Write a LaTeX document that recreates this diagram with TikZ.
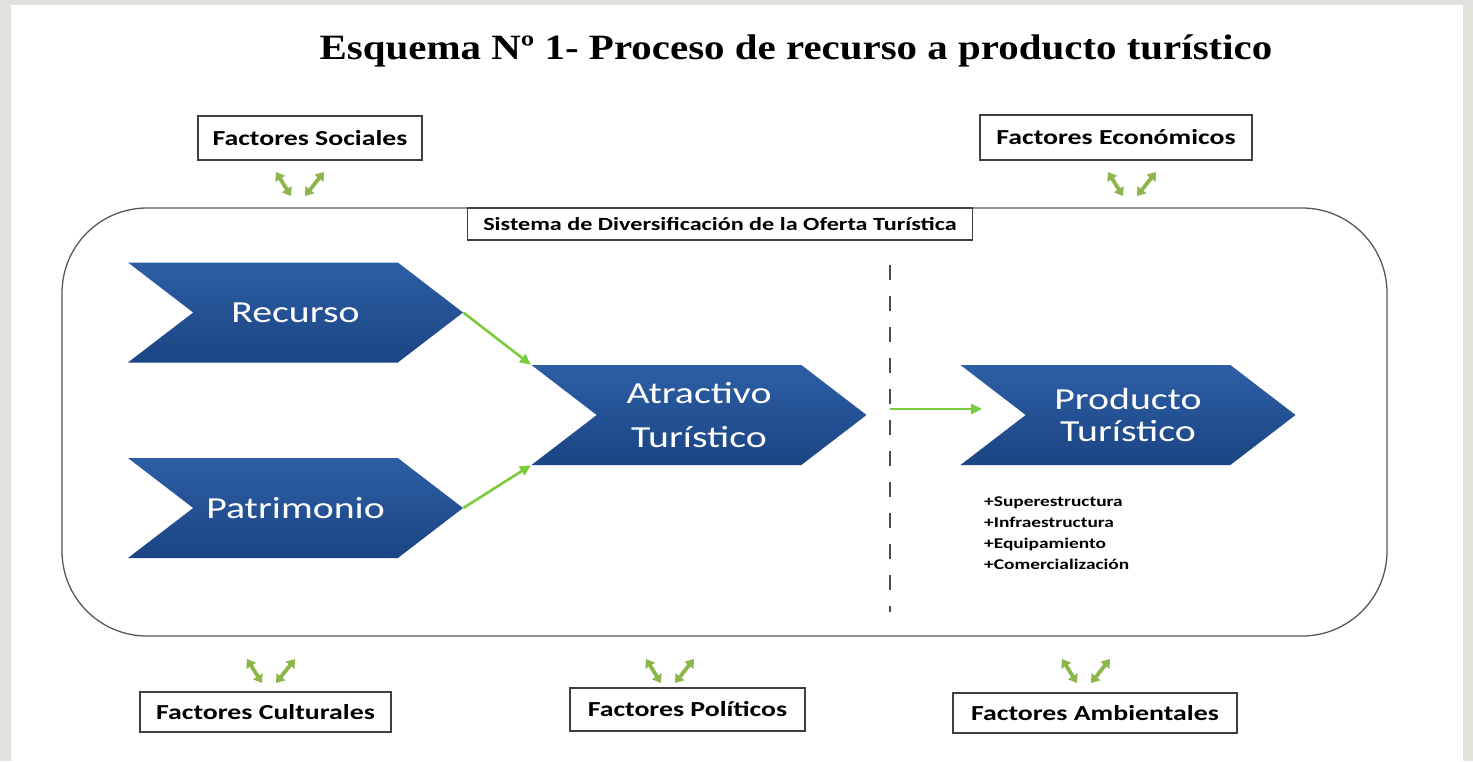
\documentclass[tikz,border=0pt]{standalone}
\usepackage{fontspec}
\setmainfont{Liberation Serif}
\newfontfamily\calibri{Carlito}[FakeStretch=1.3]
\newfontfamily\headfont{Liberation Serif}[FakeStretch=1.15]
\usetikzlibrary{arrows.meta,positioning,shapes.symbols}
\definecolor{chevtop}{HTML}{2D5EA5}
\definecolor{chevbot}{HTML}{1B4583}
\definecolor{flowgreen}{HTML}{7ACC3C}
\definecolor{swapgreen}{HTML}{8CB64C}
\definecolor{pagegrey}{HTML}{E2E0DB}

\begin{document}
\begin{tikzpicture}[x=1pt, y=-1pt,
  factor/.style={draw=black!75, line width=1.2, fill=white, inner sep=0, font=\calibri\bfseries\fontsize{21.4}{25}\selectfont},
  chev/.style={signal, signal from=west, signal to=east, signal pointer angle=75, minimum width=335, minimum height=100, inner sep=0, top color=chevtop, bottom color=chevbot, text=white, align=center, font=\calibri\fontsize{30.6}{44}\selectfont},
  flow/.style={-{Triangle[length=11pt,width=10pt]}, draw=flowgreen, line width=2.6},
  bothway/.style={{Triangle[length=8pt,width=11pt]}-{Triangle[length=8pt,width=11pt]}, draw=swapgreen, line width=3.8},
  frame/.style={draw=black!65, line width=1.3, rounded corners=85},
  divider/.style={draw=black!70, line width=1.5, dash pattern=on 15pt off 16pt}]
\fill[pagegrey] (0,0) rectangle (1473,761);
\fill[white] (11,5) rectangle (1463,761);
\useasboundingbox (0,0) rectangle (1473,761);

\node[font=\headfont\bfseries\fontsize{35.6}{42}\selectfont] (title) at (796,51) {Esquema Nº 1- Proceso de recurso a producto turístico};

% system frame
\draw[frame] (62,208) rectangle (1387,636);
\node[factor, minimum width=505, minimum height=32, font=\calibri\bfseries\fontsize{18.6}{22}\selectfont] (sistema) at (720,224) {Sistema de Diversificación de la Oferta Turística};
\draw[divider] (890,265) -- (890,612);

% chevrons
\node[chev] (recurso) at (295.5,312.5) {Recurso};
\node[chev] (patrimonio) at (295.5,508) {Patrimonio};
\node[chev] (atractivo) at (699,415) {Atractivo\\Turístico};
\node[chev, font=\calibri\fontsize{30.6}{32}\selectfont] (producto) at (1128,415) {Producto\\Turístico};
\node[anchor=north west, align=left, inner sep=0, font=\calibri\bfseries\fontsize{14.9}{20.7}\selectfont] (extras) at (984,497) {+Superestructura\\+Infraestructura\\+Equipamiento\\+Comercialización};

\draw[flow] (recurso.east) -- (atractivo.north west);
\draw[flow] (patrimonio.east) -- (atractivo.south west);
\coordinate (split) at (890,409);
\coordinate (entry) at (982,409);
\draw[flow] (split) -- (entry);

% factors
\node[factor, minimum width=224, minimum height=44] (social) at (310,138) {Factores Sociales};
\node[factor, minimum width=272, minimum height=45] (economico) at (1116,137.5) {Factores Económicos};
\node[factor, minimum width=251, minimum height=40] (cultural) at (265.5,712) {Factores Culturales};
\node[factor, minimum width=235, minimum height=43] (politico) at (687.5,709.5) {Factores Políticos};
\node[factor, minimum width=284, minimum height=40] (ambiental) at (1095,713) {Factores Ambientales};

\foreach \x/\y in {300/184, 1132/184, 271/671, 670/671, 1086/671}{
  \draw[bothway] (\x-24,\y-12) -- (\x-9,\y+12);
  \draw[bothway] (\x+5,\y+12) -- (\x+24,\y-12);
}
\end{tikzpicture}
\end{document}
